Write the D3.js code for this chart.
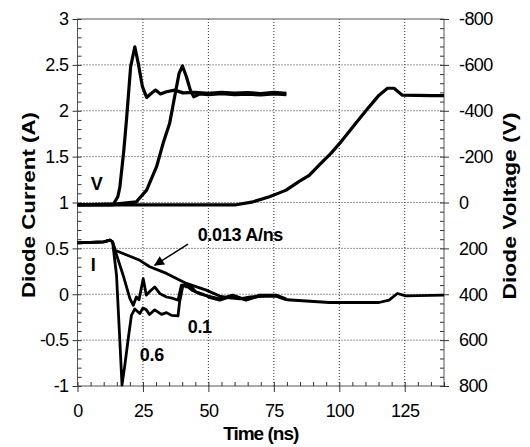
<!DOCTYPE html>
<html>
<head>
<meta charset="utf-8">
<script src="https://cdn.jsdelivr.net/npm/d3@7"></script>
<style>
  body { margin: 0; background: #fff; }
  svg text { font-family: Arial, "Liberation Sans", sans-serif; fill: #000; }
</style>
</head>
<body>
<div id="chart"></div>
<script>
// axis ticks
var timeTicks = [0, 25, 50, 75, 100, 125];
var currentTicks = [3, 2.5, 2, 1.5, 1, 0.5, 0, -0.5, -1];
var voltageTicks = [-800, -600, -400, -200, 0, 200, 400, 600, 800];

// diode voltage, [time ns, volts]
var voltFast = [[0,10],[13.6,10],[15.4,-25],[16.2,-68],[17.7,-228],[18.7,-359],[20.3,-592],[21.9,-679],[23.2,-607],[24.8,-505],[26.4,-458],[27.9,-473],[29.8,-490],[31.7,-473],[34,-483],[37.1,-490],[40.3,-478],[45,-480],[50,-476],[55,-480],[60,-477],[65,-479],[70,-475],[75,-480],[79.8,-476]];
var voltMid = [[0,10],[15,6],[22.5,-3],[26.4,-54],[30.2,-156],[32.7,-258],[35.2,-345],[37.1,-461],[38.8,-563],[40.1,-595],[41.6,-548],[43.1,-490],[44.4,-461],[46.6,-473],[50,-470],[55,-474],[60,-470],[65,-472],[70,-469],[75,-473],[79.8,-470]];
var voltSlow = [[0,10],[60.6,10],[67,-3],[73.3,-25],[77.1,-42],[79.7,-54],[84.7,-92],[88.5,-118],[92.3,-163],[96.8,-214],[101.2,-272],[106.3,-345],[111.4,-417],[115.2,-468],[118.4,-498],[120.9,-498],[124.1,-468],[130,-467],[135,-466],[140,-466]];

// diode current, [time ns, amps]
var currSlow = [[0,0.56],[10,0.57],[12.4,0.59],[13.4,0.57],[14.3,0.48],[23.8,0.37],[27.6,0.30],[34,0.227],[41.6,0.118],[49.2,0.045],[54.3,-0.02],[58,-0.04],[62,-0.05],[66,-0.03],[72,-0.02],[76,-0.02],[80,-0.06],[96.2,-0.09],[115.2,-0.09],[119,-0.065],[122.2,0.008],[125.4,-0.017],[140,-0.01]];
var currMid = [[0,0.56],[10,0.57],[12.4,0.59],[13.4,0.57],[15,0.42],[17.4,0.21],[20,-0.046],[21.3,-0.12],[22.5,-0.03],[23.5,-0.06],[25.1,0.17],[26.3,-0.01],[27.6,0.03],[29.5,0.08],[31.4,0.009],[34,-0.03],[36.5,-0.046],[38.4,-0.064],[39.7,0.1],[41.6,0.09],[44,0.04],[47,0.0],[50,-0.02],[54.3,-0.05],[59.3,-0.01],[64.4,-0.06],[69.5,-0.01],[75.9,-0.01],[79.7,-0.05]];
var currFast = [[0,0.56],[10,0.57],[12.4,0.59],[13.4,0.57],[14.9,0.21],[16.2,-0.52],[17,-0.99],[18.1,-0.77],[19.4,-0.48],[20.6,-0.23],[21.9,-0.16],[23.8,-0.21],[25,-0.15],[26.3,-0.17],[27.5,-0.22],[29.5,-0.17],[32.1,-0.22],[34,-0.2],[35.9,-0.23],[38.4,-0.235],[39,-0.083],[40.3,0.1],[41.6,0.08],[43,0.1],[45,0.03],[48,0.0],[51,-0.04],[54.3,-0.065],[59.3,-0.02],[64.4,-0.065],[69.5,-0.02],[75.9,-0.02],[79.7,-0.06]];

// annotations, in data units (time, amps)
var notes = [
  {text: "V", t: 7.3, a: 1.2, anchor: "middle"},
  {text: "I", t: 6, a: 0.32, anchor: "middle"},
  {text: "0.013 A/ns", t: 45.9, a: 0.645, anchor: "start"},
  {text: "0.1", t: 42.1, a: -0.355, anchor: "start"},
  {text: "0.6", t: 23.8, a: -0.664, anchor: "start"}
];
var arrowFrom = [42.2, 0.546], arrowTo = [29.5, 0.317];

var W = 530, H = 447;
var margin = {top: 19, right: 86, bottom: 61, left: 77.5};
var w = W - margin.left - margin.right,
	h = H - margin.top - margin.bottom;

var svg = d3.select("#chart")
	.append("svg")
	.attr("width", W)
	.attr("height", H)
	.append("g")
	.attr("transform", "translate(" + margin.left + "," + margin.top + ")");

var x = d3.scaleLinear().domain([0, 140]).range([0, w]);
var yI = d3.scaleLinear().domain([-1, 3]).range([h, 0]);
var yV = d3.scaleLinear().domain([800, -800]).range([h, 0]);

// dotted grid
var grid = svg.append("g").attr("stroke", "#333").attr("stroke-dasharray", "1,2").attr("stroke-width", 1);
grid.selectAll(".gx").data(timeTicks.slice(1))
	.enter().append("line")
	.attr("x1", function(d){ return x(d) }).attr("x2", function(d){ return x(d) })
	.attr("y1", 0).attr("y2", h);
grid.selectAll(".gy").data(currentTicks.slice(1, -1))
	.enter().append("line")
	.attr("y1", function(d){ return yI(d) }).attr("y2", function(d){ return yI(d) })
	.attr("x1", 0).attr("x2", w);

// frame
svg.append("rect").attr("width", w).attr("height", h)
	.attr("fill", "none").attr("stroke", "#555").attr("stroke-width", 1);

function styleAxis(g) {
	g.select(".domain").remove();
	g.selectAll("line").attr("stroke", "#333");
	g.selectAll("text").attr("font-size", 18).attr("fill", "#000").attr("letter-spacing", "-0.6");
}

// left axis, major outward + minor inward
svg.append("g")
	.call(d3.axisLeft(yI).tickValues(currentTicks).tickSize(5).tickPadding(4).tickFormat(function(d){ return String(d) }))
	.call(styleAxis);
svg.append("g")
	.call(d3.axisRight(yI).tickValues(d3.range(-10, 31).map(function(d){ return d / 10 })).tickSize(4).tickFormat(""))
	.call(styleAxis);

// right axis
svg.append("g")
	.attr("transform", "translate(" + w + ",0)")
	.call(d3.axisRight(yV).tickValues(voltageTicks).tickSize(5).tickPadding(10).tickFormat(function(d){ return String(d) }))
	.call(styleAxis);
svg.append("g")
	.attr("transform", "translate(" + w + ",0)")
	.call(d3.axisLeft(yV).tickValues(d3.range(-800, 801, 40)).tickSize(4).tickFormat(""))
	.call(styleAxis);

// bottom axis
svg.append("g")
	.attr("transform", "translate(0," + h + ")")
	.call(d3.axisBottom(x).tickValues(timeTicks).tickSize(6).tickPadding(12).tickFormat(function(d){ return String(d) }))
	.call(styleAxis);
svg.append("g")
	.attr("transform", "translate(0," + h + ")")
	.call(d3.axisTop(x).tickValues(d3.range(0, 141, 5)).tickSize(4).tickFormat(""))
	.call(styleAxis);

// axis titles
svg.append("text")
	.attr("transform", "translate(" + (28 - margin.left) + "," + (205 - margin.top) + ") rotate(-90)")
	.attr("text-anchor", "middle").attr("dominant-baseline", "central")
	.attr("font-size", 19).attr("font-weight", "bold")
	.attr("textLength", 186).attr("lengthAdjust", "spacingAndGlyphs")
	.text("Diode Current (A)");
svg.append("text")
	.attr("transform", "translate(" + (509 - margin.left) + "," + (206 - margin.top) + ") rotate(-90)")
	.attr("text-anchor", "middle").attr("dominant-baseline", "central")
	.attr("font-size", 19).attr("font-weight", "bold")
	.attr("textLength", 187).attr("lengthAdjust", "spacingAndGlyphs")
	.text("Diode Voltage (V)");
svg.append("text")
	.attr("x", w / 2).attr("y", h + 54)
	.attr("text-anchor", "middle")
	.attr("font-size", 19).attr("font-weight", "bold").attr("letter-spacing", "-1")
	.text("Time (ns)");

// curves
var lineV = d3.line().x(function(d){ return x(d[0]) }).y(function(d){ return yV(d[1]) });
var lineI = d3.line().x(function(d){ return x(d[0]) }).y(function(d){ return yI(d[1]) });

[voltSlow, voltMid, voltFast].forEach(function(s){
	svg.append("path").datum(s).attr("d", lineV)
		.attr("fill", "none").attr("stroke", "#000").attr("stroke-width", 3.2)
		.attr("stroke-linejoin", "round");
});
[currSlow, currMid, currFast].forEach(function(s){
	svg.append("path").datum(s).attr("d", lineI)
		.attr("fill", "none").attr("stroke", "#000").attr("stroke-width", 2.8)
		.attr("stroke-linejoin", "round");
});

// arrow
svg.append("defs").append("marker")
	.attr("id", "head").attr("viewBox", "0 0 10 10")
	.attr("refX", 9).attr("refY", 5)
	.attr("markerWidth", 14).attr("markerHeight", 10)
	.attr("markerUnits", "userSpaceOnUse")
	.attr("orient", "auto")
	.append("path").attr("d", "M0,0 L10,5 L0,10 z").attr("fill", "#000");
svg.append("line")
	.attr("x1", x(arrowFrom[0])).attr("y1", yI(arrowFrom[1]))
	.attr("x2", x(arrowTo[0])).attr("y2", yI(arrowTo[1]))
	.attr("stroke", "#000").attr("stroke-width", 1.5)
	.attr("marker-end", "url(#head)");

// labels
svg.selectAll(".note").data(notes)
	.enter().append("text")
	.attr("class", "note")
	.attr("x", function(d){ return x(d.t) })
	.attr("y", function(d){ return yI(d.a) })
	.attr("text-anchor", function(d){ return d.anchor })
	.attr("dominant-baseline", "central")
	.attr("font-size", 18).attr("font-weight", "bold").attr("letter-spacing", "-0.3")
	.text(function(d){ return d.text });
</script>
</body>
</html>
